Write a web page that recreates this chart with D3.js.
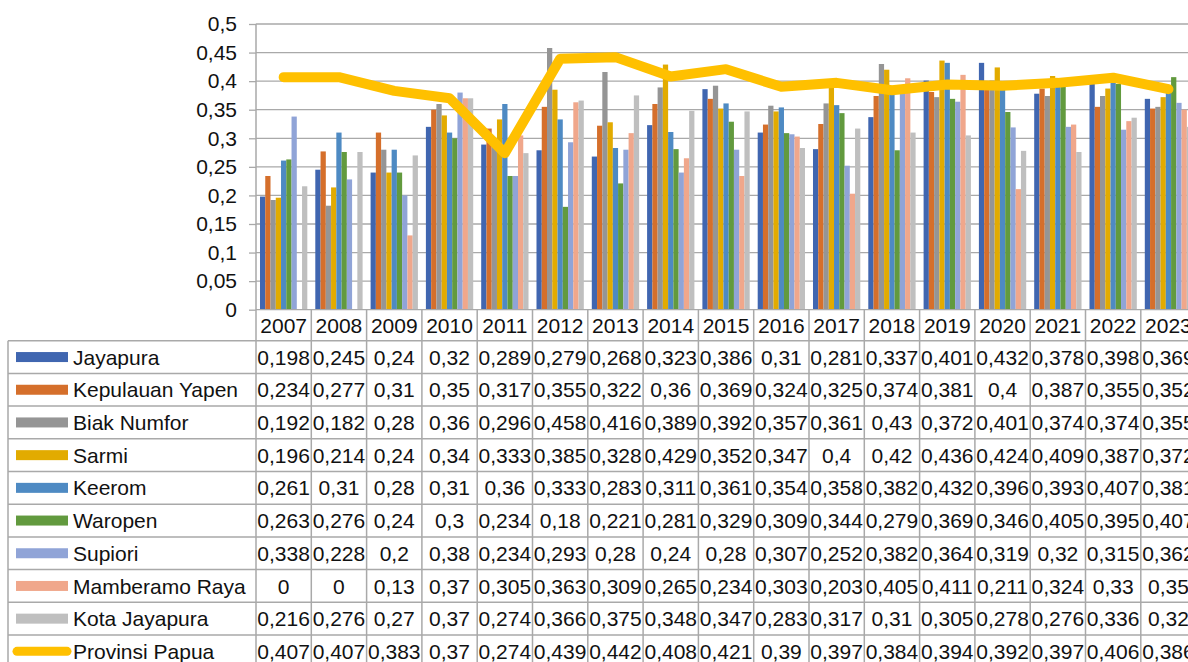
<!DOCTYPE html>
<html><head><meta charset="utf-8">
<script src="https://cdn.jsdelivr.net/npm/d3@7"></script>
<style>
html,body{margin:0;padding:0;background:#fff;overflow:hidden;}
svg{display:block;font-family:"Liberation Sans",Arial,sans-serif;}
</style></head>
<body>
<svg id="c" width="1188" height="662"></svg>
<script>
const years = [2007,2008,2009,2010,2011,2012,2013,2014,2015,2016,2017,2018,2019,2020,2021,2022,2023];
const seriesNames = ["Jayapura","Kepulauan Yapen","Biak Numfor","Sarmi","Keerom","Waropen","Supiori","Mamberamo Raya","Kota Jayapura"];
const jayapura   = [0.198,0.245,0.24,0.32,0.289,0.279,0.268,0.323,0.386,0.31,0.281,0.337,0.401,0.432,0.378,0.398,0.369];
const yapen      = [0.234,0.277,0.31,0.35,0.317,0.355,0.322,0.36,0.369,0.324,0.325,0.374,0.381,0.4,0.387,0.355,0.352];
const biak       = [0.192,0.182,0.28,0.36,0.296,0.458,0.416,0.389,0.392,0.357,0.361,0.43,0.372,0.401,0.374,0.374,0.355];
const sarmi      = [0.196,0.214,0.24,0.34,0.333,0.385,0.328,0.429,0.352,0.347,0.4,0.42,0.436,0.424,0.409,0.387,0.372];
const keerom     = [0.261,0.31,0.28,0.31,0.36,0.333,0.283,0.311,0.361,0.354,0.358,0.382,0.432,0.396,0.393,0.407,0.381];
const waropen    = [0.263,0.276,0.24,0.3,0.234,0.18,0.221,0.281,0.329,0.309,0.344,0.279,0.369,0.346,0.405,0.395,0.407];
const supiori    = [0.338,0.228,0.2,0.38,0.234,0.293,0.28,0.24,0.28,0.307,0.252,0.382,0.364,0.319,0.32,0.315,0.362];
const mamberamo  = [0,0,0.13,0.37,0.305,0.363,0.309,0.265,0.234,0.303,0.203,0.405,0.411,0.211,0.324,0.33,0.35];
const kotaJaya   = [0.216,0.276,0.27,0.37,0.274,0.366,0.375,0.348,0.347,0.283,0.317,0.31,0.305,0.278,0.276,0.336,0.32];
const provinsi   = [0.407,0.407,0.383,0.37,0.274,0.439,0.442,0.408,0.421,0.39,0.397,0.384,0.394,0.392,0.397,0.406,0.386];
const lineName = "Provinsi Papua";
const yTicks = [0,0.05,0.1,0.15,0.2,0.25,0.3,0.35,0.4,0.45,0.5];

const barSeries = [jayapura,yapen,biak,sarmi,keerom,waropen,supiori,mamberamo,kotaJaya];
const colors = ["#4066B0","#D56F2B","#959595","#E2AB00","#4E8AC3","#629A3E","#90A4D7","#F0A78B","#BFBFBF"];
const lineColor = "#FFC000";

const svg = d3.select("#c");
const plotL = 256, colW = 55.3, plotR = plotL + colW*years.length;
const yTop = 24, yZero = 309.7;
const tableL = 8, headerBottom = 340.7, rowH = 32.7;
const fontSize = 21;
const gridCol = "#a9a9a9";

const x = d3.scaleBand().domain(years).range([plotL, plotR]).padding(0);
const xs = d3.scaleBand().domain(d3.range(barSeries.length)).range([0, x.bandwidth()]).paddingInner(0).paddingOuter(0.76);
const y = d3.scaleLinear().domain([0,0.5]).range([yZero, yTop]);

// gridlines
svg.append("g").selectAll("line").data(yTicks.filter(t=>t>0)).join("line")
  .attr("x1", plotL).attr("x2", 1188).attr("y1", d=>y(d)).attr("y2", d=>y(d))
  .attr("stroke", gridCol).attr("stroke-width", 1.3);

// y axis
const yAxis = d3.axisLeft(y).tickValues(yTicks).tickSize(7).tickPadding(12)
  .tickFormat(d => String(d).replace(".", ","));
const ga = svg.append("g").attr("transform", `translate(${plotL},0)`).call(yAxis);
ga.select(".domain").remove();
ga.selectAll(".tick line").attr("stroke", gridCol).attr("stroke-width", 1.3);
ga.selectAll(".tick text").attr("font-size", fontSize).attr("fill", "#111").attr("font-family", "Liberation Sans, Arial, sans-serif");

// bars
const gBars = svg.append("g");
barSeries.forEach((vals, si) => {
  gBars.append("g").selectAll("rect").data(vals.map((v,i)=>({v, yr: years[i]}))).join("rect")
    .attr("x", d => x(d.yr) + xs(si))
    .attr("width", xs.bandwidth())
    .attr("y", d => y(d.v))
    .attr("height", d => yZero - y(d.v))
    .attr("fill", colors[si]);
});

// line
const line = d3.line().x((d,i)=> x(years[i]) + x.bandwidth()/2).y(d=>y(d));
svg.append("path").datum(provinsi).attr("d", line)
  .attr("fill","none").attr("stroke", lineColor).attr("stroke-width", 10)
  .attr("stroke-linecap","round").attr("stroke-linejoin","round");

// table
const allRows = seriesNames.map((n,i)=>({name:n, vals: barSeries[i], type:"bar", color: colors[i]}))
  .concat([{name: lineName, vals: provinsi, type:"line", color: lineColor}]);
const tableBottom = headerBottom + rowH*allRows.length;
const gt = svg.append("g");

// axis line (x) at zero
gt.append("line").attr("x1", plotL).attr("x2", 1188).attr("y1", yZero).attr("y2", yZero)
  .attr("stroke", gridCol).attr("stroke-width", 1.3);
// y axis vertical line
gt.append("line").attr("x1", plotL).attr("x2", plotL).attr("y1", yTop).attr("y2", tableBottom)
  .attr("stroke", gridCol).attr("stroke-width", 1.5);
// vertical column lines
gt.selectAll("line.v").data(years.slice(1).concat(["end"])).join("line").attr("class","v")
  .attr("x1", (d,i)=> plotL + colW*(i+1)).attr("x2", (d,i)=> plotL + colW*(i+1))
  .attr("y1", yZero).attr("y2", tableBottom)
  .attr("stroke", gridCol).attr("stroke-width", 1.5);
// left border
gt.append("line").attr("x1", tableL).attr("x2", tableL).attr("y1", headerBottom).attr("y2", tableBottom)
  .attr("stroke", gridCol).attr("stroke-width", 1.5);
// horizontal row lines
gt.selectAll("line.h").data(d3.range(allRows.length+1)).join("line").attr("class","h")
  .attr("x1", tableL).attr("x2", 1188)
  .attr("y1", d => headerBottom + d*rowH).attr("y2", d => headerBottom + d*rowH)
  .attr("stroke", gridCol).attr("stroke-width", 1.5);

// header years
gt.selectAll("text.yr").data(years).join("text").attr("class","yr")
  .attr("x", d => x(d) + x.bandwidth()/2).attr("y", (yZero+headerBottom)/2).attr("dy","0.36em")
  .attr("text-anchor","middle").attr("font-size", fontSize).attr("fill","#111").text(d=>d);

// rows
allRows.forEach((r, ri) => {
  const cy = headerBottom + ri*rowH + rowH/2;
  if (r.type === "bar") {
    gt.append("rect").attr("x", 16).attr("width", 52).attr("y", cy-5).attr("height", 10).attr("fill", r.color);
  } else {
    gt.append("line").attr("x1", 17).attr("x2", 67).attr("y1", cy).attr("y2", cy)
      .attr("stroke", r.color).attr("stroke-width", 9).attr("stroke-linecap","round");
  }
  gt.append("text").attr("x", 73).attr("y", cy).attr("dy","0.36em")
    .attr("font-size", fontSize).attr("fill","#111").text(r.name);
  gt.append("g").selectAll("text").data(r.vals).join("text")
    .attr("x", (d,i)=> x(years[i]) + x.bandwidth()/2).attr("y", cy).attr("dy","0.36em")
    .attr("text-anchor","middle").attr("font-size", fontSize).attr("fill","#111")
    .text(d => String(d).replace(".", ","));
});
</script>
</body></html>
